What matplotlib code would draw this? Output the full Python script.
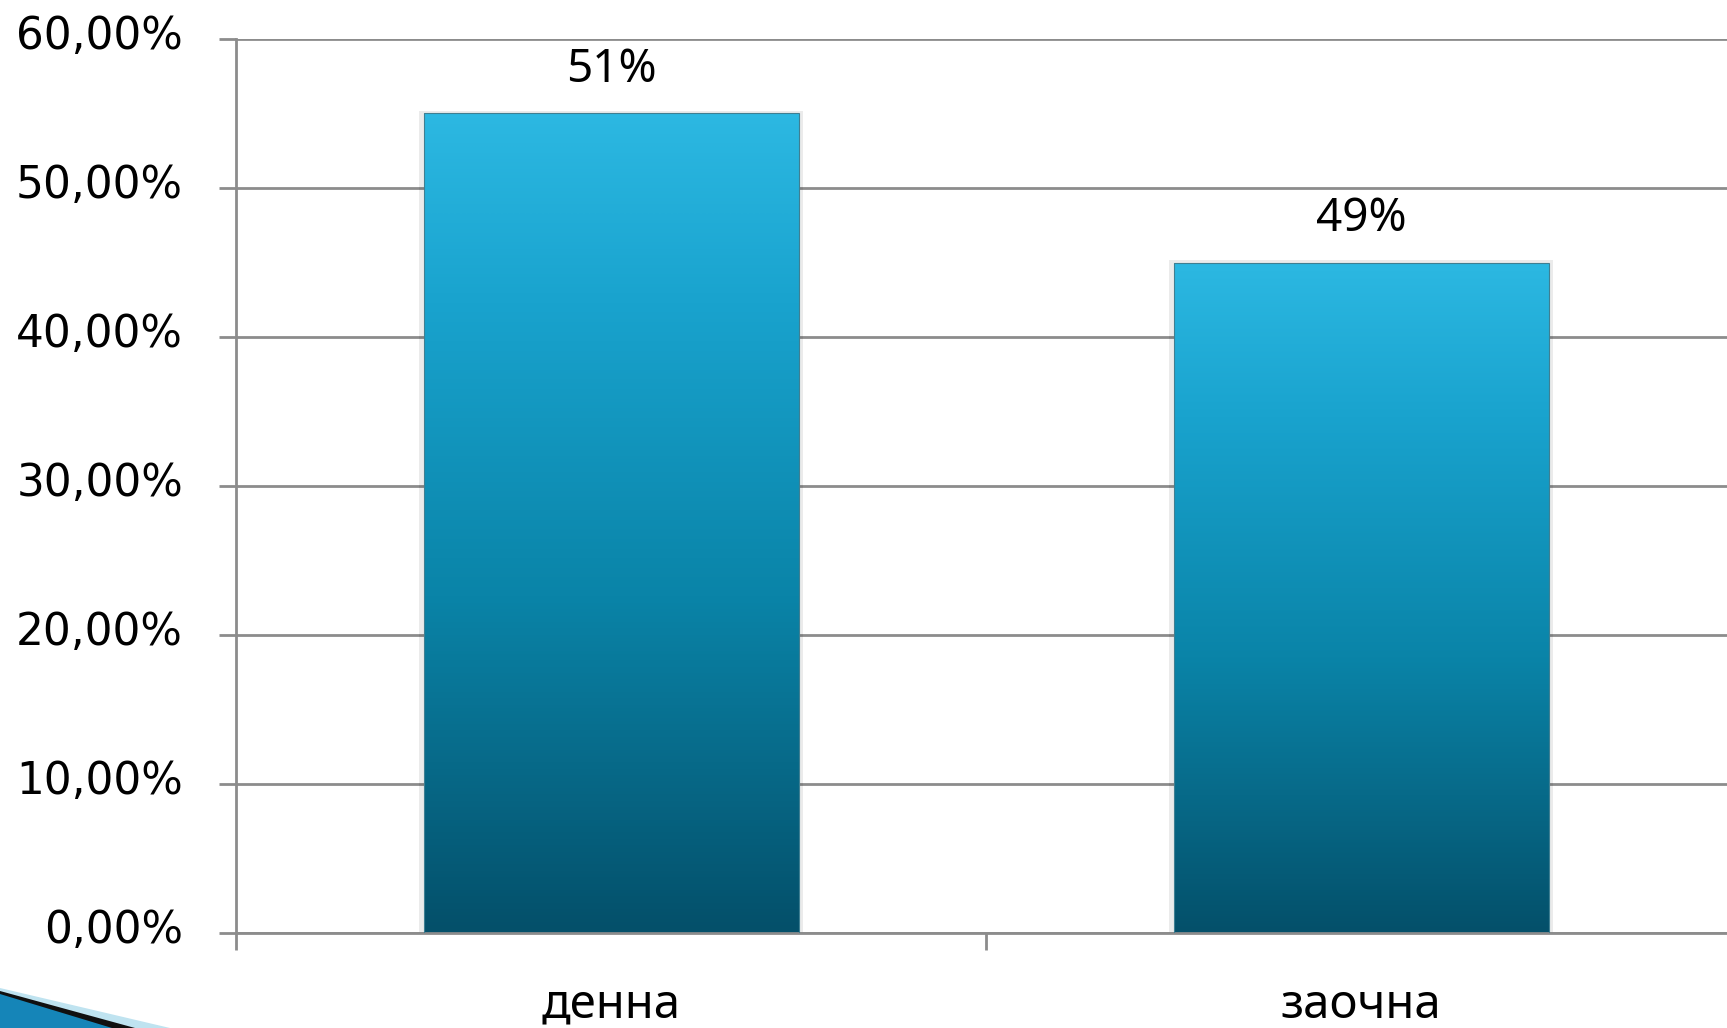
import matplotlib
matplotlib.use("Agg")
import matplotlib.pyplot as plt
import numpy as np
from matplotlib.colors import LinearSegmentedColormap
from matplotlib.patches import Rectangle, Polygon
from matplotlib.transforms import ScaledTranslation

categories = ["денна", "заочна"]
values = [0.55, 0.45]
value_labels = ["51%", "49%"]
y_ticks = [0.0, 0.1, 0.2, 0.3, 0.4, 0.5, 0.6]
y_tick_labels = ["0,00%", "10,00%", "20,00%", "30,00%", "40,00%", "50,00%", "60,00%"]

W, H = 1727, 1028
fig = plt.figure(figsize=(W / 100, H / 100), dpi=100)
fig.patch.set_facecolor("white")

# axes geometry (pixels)
ax_left, ax_right, ax_top, ax_bottom = 236, 1736, 39, 933
ax = fig.add_axes([ax_left / W, (H - ax_bottom) / H,
                   (ax_right - ax_left) / W, (ax_bottom - ax_top) / H])
ax.set_xlim(-0.5, len(categories) - 0.5)
ax.set_ylim(0, 0.6)

grid_col = "#8c8c8c"
ax.set_yticks(y_ticks)
ax.set_yticklabels(y_tick_labels, fontsize=31.5, family="DejaVu Sans", color="black")
ax.yaxis.grid(True, color=grid_col, linewidth=2)
ax.set_axisbelow(True)
ax.tick_params(axis="y", length=12.2, width=2, color=grid_col, pad=26)
for lbl in ax.get_yticklabels():
    lbl.set_transform(lbl.get_transform() + ScaledTranslation(0, 7 / 100, fig.dpi_scale_trans))

# category boundaries as major ticks, labels on minor ticks
ax.set_xticks([-0.5 + i for i in range(len(categories) + 1)])
ax.set_xticklabels([""] * (len(categories) + 1))
ax.tick_params(axis="x", which="major", length=12.2, width=2, color=grid_col)
ax.set_xticks(range(len(categories)), minor=True)
ax.set_xticklabels(categories, minor=True, fontsize=34, family="Noto Sans")
ax.tick_params(axis="x", which="minor", length=0, pad=61)
for lbl in ax.get_xticklabels(minor=True):
    lbl.set_verticalalignment("baseline")

for s in ["top", "right"]:
    ax.spines[s].set_visible(False)
for s in ["left", "bottom"]:
    ax.spines[s].set_color(grid_col)
    ax.spines[s].set_linewidth(2)

cmap = LinearSegmentedColormap.from_list(
    "barfill",
    [(0.0, "#2CB8E2"), (0.23, "#19A3CE"), (0.59, "#0A84A8"), (1.0, "#04506A")])
grad = np.linspace(0, 1, 256).reshape(-1, 1)
bw = 0.5
bars = ax.bar(range(len(categories)), values, width=bw, color="none",
              edgecolor="#3f7f92", linewidth=0.8, zorder=3)
for b in bars:
    x0, y0 = b.get_x(), b.get_y()
    w, h = b.get_width(), b.get_height()
    sh = Rectangle((x0 - 0.006, y0), w + 0.012, h + 0.002, facecolor="#000000",
                   alpha=0.08, edgecolor="none", zorder=1.5)
    ax.add_patch(sh)
    im = ax.imshow(grad, cmap=cmap, aspect="auto", extent=(x0, x0 + w, y0, y0 + h),
                   origin="upper", zorder=2, interpolation="bilinear")
    im.set_clip_path(b)
ax.set_xlim(-0.5, len(categories) - 0.5)
ax.set_ylim(0, 0.6)

for i, (v, t) in enumerate(zip(values, value_labels)):
    ax.annotate(t, xy=(i, v), xytext=(0, 23), textcoords="offset points",
                ha="center", va="baseline", fontsize=33, family="Noto Sans",
                color="black")

# decorative swoosh bottom-left (figure pixel coords)
def fig_poly(pts, **kw):
    p = Polygon([(x / W, 1 - y / H) for x, y in pts], closed=True,
                transform=fig.transFigure, **kw)
    fig.patches.append(p)

fig_poly([(0, 988), (170, 1028), (0, 1028)], facecolor="#bfe3f0", edgecolor="none")
fig_poly([(0, 991), (135, 1028), (0, 1028)], facecolor="#101010", edgecolor="none")
fig_poly([(0, 994), (112, 1028), (0, 1028)], facecolor="#1585b8", edgecolor="none")

fig.savefig("out.png", dpi=100, facecolor="white")
